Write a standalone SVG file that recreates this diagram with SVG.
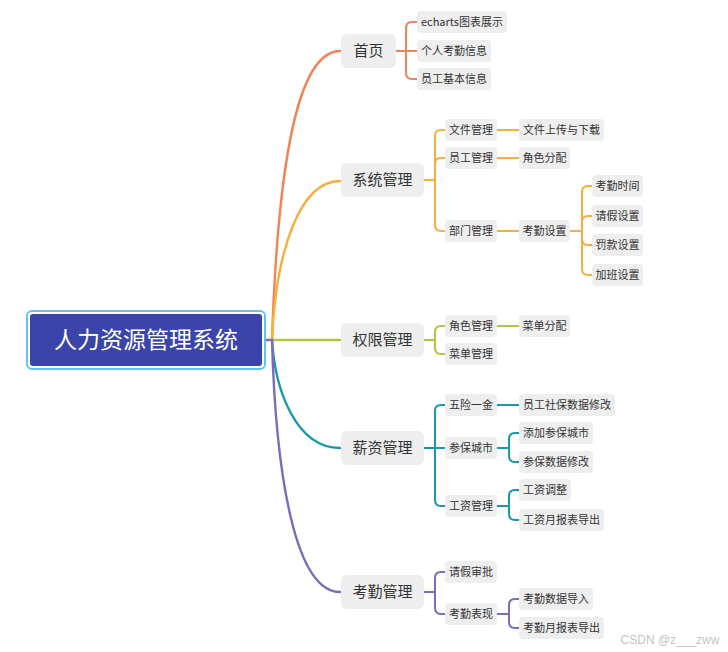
<svg xmlns="http://www.w3.org/2000/svg" width="728" height="652" viewBox="0 0 728 652">
<style>
text{font-family:"Noto Sans CJK SC","Microsoft YaHei",sans-serif;fill:#333;text-anchor:middle}
.b1{fill:#eeeeee}
.b2{fill:#eeeeee}
.t1{font-size:15px}
.t2{font-size:11px}
.c{fill:none;stroke-width:2;stroke-linecap:round}
.r{fill:none;stroke-width:2.4;stroke-linecap:round}
.o{stroke:#f08456}.y{stroke:#f7ae3c}.g{stroke:#b4c43f}.t{stroke:#1898ad}.p{stroke:#7a6cbb}
</style>
<rect width="728" height="652" fill="#fff"/>
<g id="connectors">
<path class="r p" d="M262,340 H272"/>
<path class="r o" d="M272,340 C278,160 298,51 340,51"/>
<path class="r y" d="M272,340 C276,250 300,181 340,181"/>
<path class="r g" d="M272,340 H340"/>
<path class="r t" d="M272,340 C275,390 296,448 340,448"/>
<path class="r p" d="M272,340 C276,480 296,592 340,592"/>
<!-- 首页 -->
<path class="c o" d="M396,51 H406 M406,51 V28 Q406,22 412,22 H417 M406,51 H417 M406,51 V73 Q406,79 412,79 H417"/>
<!-- 系统管理 -->
<path class="c y" d="M424,180 H435 M435,180 V136 Q435,130 441,130 H445 M435,180 V164 Q435,158 441,158 H445 M435,180 V225 Q435,231 441,231 H445"/>
<path class="c y" d="M497,130 H519 M497,158 H519 M497,231 H519"/>
<path class="c y" d="M570,231 H582 M582,231 V192 Q582,186 588,186 H592 M582,231 V222 Q582,216 588,216 H592 M582,231 V239 Q582,245 588,245 H592 M582,231 V269 Q582,275 588,275 H592"/>
<!-- 权限管理 -->
<path class="c g" d="M424,340 H435 M435,340 V332 Q435,326 441,326 H445 M435,340 V348 Q435,354 441,354 H445 M497,326 H519"/>
<!-- 薪资管理 -->
<path class="c t" d="M424,448 H445 M435,448 V411 Q435,405 441,405 H445 M435,448 V500 Q435,506 441,506 H445 M497,405 H519"/>
<path class="c t" d="M497,448 H509 M509,448 V439 Q509,433 515,433 H519 M509,448 V456 Q509,462 515,462 H519"/>
<path class="c t" d="M497,506 H509 M509,506 V496 Q509,490 515,490 H519 M509,506 V514 Q509,520 515,520 H519"/>
<!-- 考勤管理 -->
<path class="c p" d="M424,592 H435 M435,592 V578 Q435,572 441,572 H445 M435,592 V608 Q435,614 441,614 H445"/>
<path class="c p" d="M497,614 H509 M509,614 V605 Q509,599 515,599 H519 M509,614 V622 Q509,628 515,628 H519"/>
</g>
<g id="root">
<rect x="27" y="311" width="238" height="58" rx="5" fill="#fff" stroke="#62c3ef" stroke-width="2"/>
<rect x="30" y="314" width="232" height="52" rx="3" fill="#3b44a8"/>
<text x="146" y="348" style="font-size:23px;fill:#fff">人力资源管理系统</text>
</g>
<g id="n-home"><rect class="b1" x="341" y="34" width="55" height="34" rx="6"/><text class="t1" x="368.5" y="56">首页</text></g>
<g id="n-echarts"><rect class="b2" x="417" y="11" width="90" height="22" rx="4"/><text class="t2" x="462" y="26">echarts图表展示</text></g>
<g id="n-personal"><rect class="b2" x="417" y="40" width="74" height="22" rx="4"/><text class="t2" x="454" y="55">个人考勤信息</text></g>
<g id="n-basic"><rect class="b2" x="417" y="68" width="74" height="22" rx="4"/><text class="t2" x="454" y="83">员工基本信息</text></g>

<g id="n-sys"><rect class="b1" x="341" y="163" width="83" height="34" rx="6"/><text class="t1" x="382.5" y="185">系统管理</text></g>
<g id="n-file"><rect class="b2" x="445" y="119" width="52" height="22" rx="4"/><text class="t2" x="471" y="134">文件管理</text></g>
<g id="n-upload"><rect class="b2" x="519" y="119" width="85" height="22" rx="4"/><text class="t2" x="561.5" y="134">文件上传与下载</text></g>
<g id="n-emp"><rect class="b2" x="445" y="147" width="52" height="22" rx="4"/><text class="t2" x="471" y="162">员工管理</text></g>
<g id="n-role1"><rect class="b2" x="519" y="147" width="51" height="22" rx="4"/><text class="t2" x="544.5" y="162">角色分配</text></g>
<g id="n-dept"><rect class="b2" x="445" y="220" width="52" height="22" rx="4"/><text class="t2" x="471" y="235">部门管理</text></g>
<g id="n-attset"><rect class="b2" x="519" y="220" width="51" height="22" rx="4"/><text class="t2" x="544.5" y="235">考勤设置</text></g>
<g id="n-atttime"><rect class="b2" x="592" y="175" width="51" height="22" rx="4"/><text class="t2" x="617.5" y="190">考勤时间</text></g>
<g id="n-leave"><rect class="b2" x="592" y="205" width="51" height="22" rx="4"/><text class="t2" x="617.5" y="220">请假设置</text></g>
<g id="n-fine"><rect class="b2" x="592" y="234" width="51" height="22" rx="4"/><text class="t2" x="617.5" y="249">罚款设置</text></g>
<g id="n-overtime"><rect class="b2" x="592" y="264" width="51" height="22" rx="4"/><text class="t2" x="617.5" y="279">加班设置</text></g>

<g id="n-perm"><rect class="b1" x="341" y="323" width="83" height="34" rx="6"/><text class="t1" x="382.5" y="345">权限管理</text></g>
<g id="n-rolemgr"><rect class="b2" x="445" y="315" width="52" height="22" rx="4"/><text class="t2" x="471" y="330">角色管理</text></g>
<g id="n-menuassign"><rect class="b2" x="519" y="315" width="51" height="22" rx="4"/><text class="t2" x="544.5" y="330">菜单分配</text></g>
<g id="n-menumgr"><rect class="b2" x="445" y="343" width="52" height="22" rx="4"/><text class="t2" x="471" y="358">菜单管理</text></g>

<g id="n-salary"><rect class="b1" x="341" y="431" width="83" height="34" rx="6"/><text class="t1" x="382.5" y="453">薪资管理</text></g>
<g id="n-insure"><rect class="b2" x="445" y="394" width="52" height="22" rx="4"/><text class="t2" x="471" y="409">五险一金</text></g>
<g id="n-insuremod"><rect class="b2" x="519" y="394" width="96" height="22" rx="4"/><text class="t2" x="567" y="409">员工社保数据修改</text></g>
<g id="n-city"><rect class="b2" x="445" y="437" width="52" height="22" rx="4"/><text class="t2" x="471" y="452">参保城市</text></g>
<g id="n-addcity"><rect class="b2" x="519" y="422" width="74" height="22" rx="4"/><text class="t2" x="556" y="437">添加参保城市</text></g>
<g id="n-citymod"><rect class="b2" x="519" y="451" width="74" height="22" rx="4"/><text class="t2" x="556" y="466">参保数据修改</text></g>
<g id="n-wage"><rect class="b2" x="445" y="495" width="52" height="22" rx="4"/><text class="t2" x="471" y="510">工资管理</text></g>
<g id="n-wageadj"><rect class="b2" x="519" y="479" width="52" height="22" rx="4"/><text class="t2" x="545" y="494">工资调整</text></g>
<g id="n-wageexp"><rect class="b2" x="519" y="509" width="85" height="22" rx="4"/><text class="t2" x="561.5" y="524">工资月报表导出</text></g>

<g id="n-att"><rect class="b1" x="341" y="575" width="83" height="34" rx="6"/><text class="t1" x="382.5" y="597">考勤管理</text></g>
<g id="n-approve"><rect class="b2" x="445" y="561" width="52" height="22" rx="4"/><text class="t2" x="471" y="576">请假审批</text></g>
<g id="n-perf"><rect class="b2" x="445" y="603" width="52" height="22" rx="4"/><text class="t2" x="471" y="618">考勤表现</text></g>
<g id="n-attimport"><rect class="b2" x="519" y="588" width="74" height="22" rx="4"/><text class="t2" x="556" y="603">考勤数据导入</text></g>
<g id="n-attexport"><rect class="b2" x="519" y="617" width="85" height="22" rx="4"/><text class="t2" x="561.5" y="632">考勤月报表导出</text></g>

<text x="670" y="644" style="font-family:'Liberation Sans',sans-serif;font-size:12px;fill:#c4c4c4">CSDN @z___zww</text>
</svg>
